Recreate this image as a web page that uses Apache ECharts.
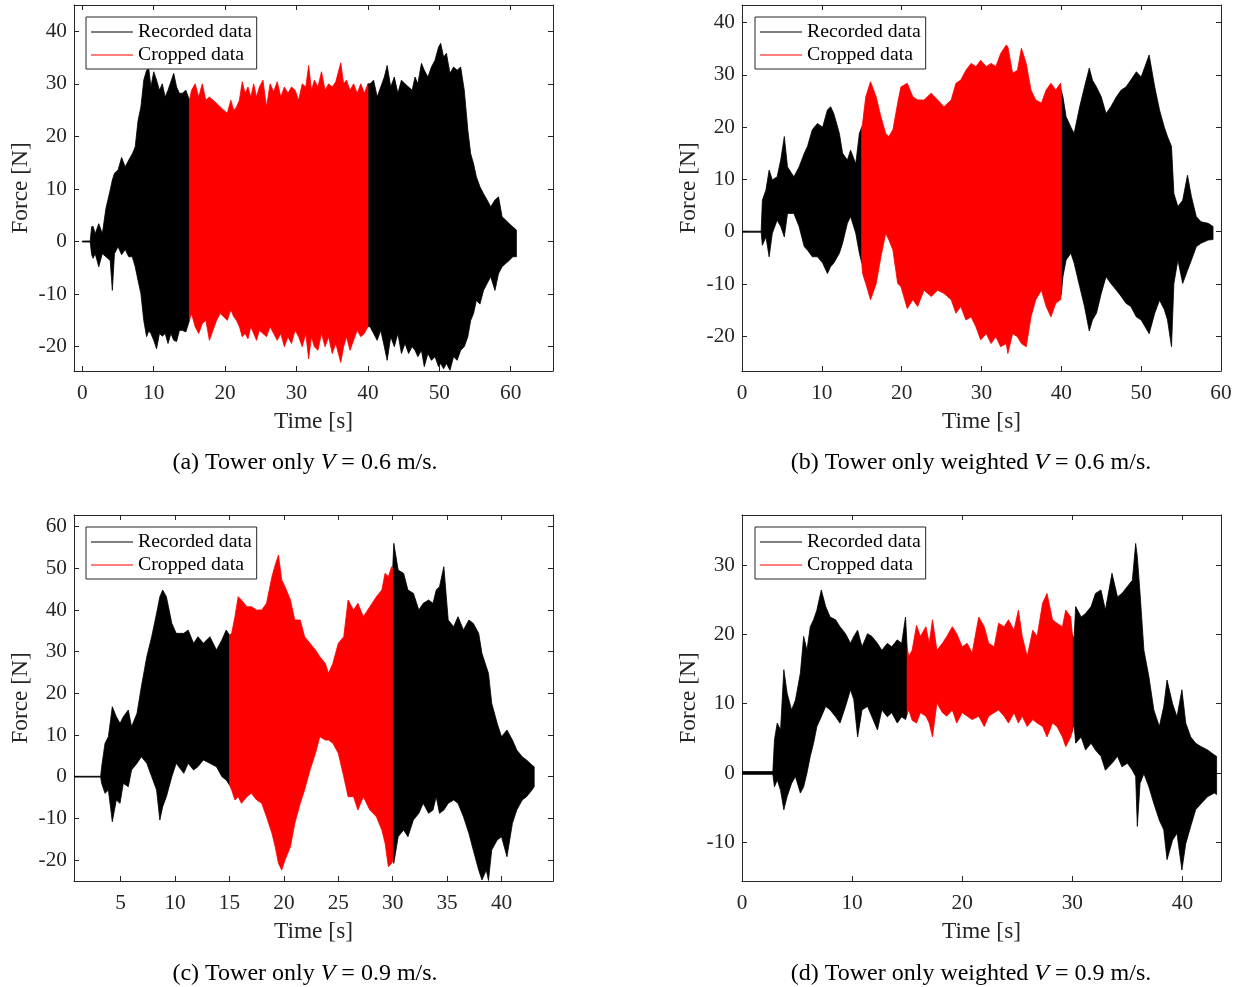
<!DOCTYPE html>
<html>
<head>
<meta charset="utf-8">
<script src="https://cdn.jsdelivr.net/npm/echarts@6/dist/echarts.min.js"></script>
<style>
  html, body { margin: 0; padding: 0; background: #fff; }
  #chart { width: 1238px; height: 987px; }
</style>
</head>
<body>
<div id="chart"></div>
<script>
// data: time [s] with the upper / lower peaks of the force signal [N]

// (a) tower only, V = 0.6 m/s
const timeA = [0, 1.1, 1.3, 1.5, 1.8, 2.3, 2.8, 3.3, 3.9, 4.2, 4.5, 5.0, 5.5, 6.0, 6.5, 7.0, 7.4, 7.8, 8.2, 8.6, 9.0, 9.3, 9.6, 10.0, 10.4, 10.8, 11.2, 11.6, 12.0, 12.4, 12.8, 13.2, 13.6, 14.0, 14.5, 15.0,
  15.3, 15.8, 16.3, 16.8, 17.3, 17.8, 18.3, 18.8, 19.3, 19.8, 20.3, 20.8, 21.2, 21.6, 22.0, 22.4, 22.8, 23.2, 23.6, 24.0, 24.4, 24.8, 25.3, 25.8, 26.3, 26.8, 27.3, 27.8, 28.3, 28.8, 29.3, 29.8, 30.3, 30.8, 31.3, 31.7, 32.1, 32.5, 33.0, 33.5, 34.0, 34.5, 35.0, 35.5, 36.2, 36.6, 37.0, 37.5, 38.0, 38.5, 39.0, 39.5, 40.0,
  40.3, 40.8, 41.3, 41.8, 42.3, 42.7, 43.2, 43.7, 44.2, 44.7, 45.2, 45.7, 46.2, 46.6, 47.0, 47.5, 47.9, 48.4, 48.9, 49.4, 49.9, 50.2, 50.6, 51.0, 51.5, 52.0, 52.5, 53.0, 53.5, 54.0, 54.4, 54.8, 55.2, 55.7, 56.2, 56.7, 57.2, 57.8, 58.3, 58.8, 59.3, 59.8, 60.3, 60.8];
const upperA = [0.1, 0.1, 2.8, 2.9, 1.5, 3.4, 1.5, 6.3, 9.8, 11.7, 13.0, 13.6, 16.0, 14.2, 15.5, 16.7, 18.0, 23.0, 25.6, 30.7, 32.6, 33.0, 29.4, 32.3, 30.7, 28.8, 30.0, 27.5, 28.8, 30.4, 32.0, 29.4, 28.2, 28.2, 28.8, 26.9,
  28.8, 30.0, 27.5, 30.0, 26.9, 27.5, 26.9, 26.3, 25.6, 25.0, 24.4, 26.9, 25.0, 25.6, 26.9, 30.4, 28.2, 29.4, 27.5, 30.0, 27.5, 29.4, 30.7, 25.6, 30.0, 28.5, 30.4, 27.5, 29.4, 28.2, 29.4, 28.8, 26.9, 30.0, 29.4, 33.5, 28.8, 30.7, 29.4, 32.3, 28.8, 30.0, 29.4, 30.4, 34.0, 30.0, 30.7, 28.8, 30.0, 28.2, 30.0, 28.2, 30.0,
  30.0, 30.7, 27.5, 29.4, 31.3, 33.5, 29.4, 31.3, 28.2, 30.7, 30.0, 29.4, 28.8, 31.3, 30.0, 33.9, 32.6, 31.3, 33.2, 34.5, 37.0, 37.7, 35.1, 35.8, 32.0, 33.2, 32.6, 33.2, 28.8, 21.2, 16.7, 14.8, 12.3, 10.4, 9.1, 7.9, 6.6, 7.9, 8.5, 4.7, 4.1, 3.4, 2.8, 2.2];
const lowerA = [-0.1, -0.1, -2.5, -3.2, -2.3, -4.8, -2.3, -2.9, -3.6, -9.3, -2.3, -1.0, -2.5, -1.5, -2.9, -2.9, -4.8, -7.4, -9.9, -15.0, -18.1, -17.0, -17.5, -18.8, -20.4, -17.5, -18.0, -17.5, -19.4, -17.5, -18.8, -19.0, -16.9, -16.9, -17.2, -15.0,
  -13.7, -16.2, -17.5, -15.6, -15.0, -18.8, -16.9, -15.0, -13.7, -14.3, -15.0, -13.0, -14.3, -15.0, -16.2, -18.1, -17.5, -18.5, -16.2, -17.5, -18.8, -16.9, -17.5, -18.1, -16.2, -17.5, -18.8, -17.5, -20.0, -18.1, -19.4, -16.9, -18.1, -20.0, -17.5, -22.3, -18.1, -20.0, -20.7, -17.5, -20.0, -18.1, -21.3, -19.4, -23.0, -20.0, -18.1, -20.7, -18.8, -16.9, -18.1, -17.5, -16.2,
  -16.2, -17.5, -18.8, -16.9, -20.0, -22.6, -18.1, -20.0, -17.5, -21.3, -19.4, -21.3, -20.0, -20.7, -21.9, -20.7, -23.8, -21.3, -22.6, -21.9, -23.8, -23.2, -24.2, -23.2, -24.5, -21.9, -22.6, -20.7, -20.0, -18.1, -15.0, -13.7, -11.2, -11.9, -9.3, -8.0, -6.7, -9.3, -6.1, -4.8, -4.2, -3.6, -2.9, -2.9];

// (b) tower only weighted, V = 0.6 m/s
const timeB = [0, 2.4, 2.55, 3.0, 3.4, 3.8, 4.4, 4.85, 5.3, 5.7, 6.5, 7.15, 7.8, 8.2, 8.8, 9.45, 10.1, 10.7, 11.1, 11.5, 12.2, 12.6, 13.2, 13.6, 14.25, 14.7, 15.0,
  15.1, 15.5, 16.1, 16.8, 17.4, 18.0, 18.4, 18.9, 19.5, 19.9, 20.7, 21.4, 22.0, 22.8, 23.7, 24.5, 25.3, 26.2, 26.8, 27.4, 28.05, 28.7, 29.3, 29.9, 30.6, 31.2, 31.8, 32.4, 33.1, 33.3, 33.9, 34.5, 35.0, 35.6, 36.2, 36.8, 37.5, 38.1, 38.7, 39.3, 39.9, 40.0,
  40.2, 40.6, 41.2, 41.6, 42.3, 42.9, 43.5, 43.9, 44.4, 45.0, 45.6, 46.2, 46.9, 47.5, 48.1, 48.7, 49.4, 50.0, 51.0, 51.7, 52.3, 52.9, 53.3, 53.8, 54.1, 54.6, 55.2, 55.8, 56.3, 56.9, 57.5, 58.4, 59.0];
const upperB = [0.1, 0.1, 6.0, 8.0, 11.8, 9.9, 10.5, 13.7, 18.2, 12.4, 10.5, 12.4, 15.0, 16.3, 19.5, 20.7, 20.0, 23.3, 23.9, 22.6, 18.8, 15.0, 13.7, 15.6, 13.0, 18.8, 20.0,
  20.7, 25.8, 28.7, 25.8, 22.0, 18.8, 18.2, 19.5, 24.6, 27.7, 28.4, 25.8, 25.2, 25.2, 26.5, 25.2, 23.9, 25.2, 28.4, 29.0, 30.9, 32.2, 31.6, 32.8, 31.6, 32.2, 31.6, 34.1, 35.7, 35.4, 30.3, 30.9, 35.1, 32.2, 27.1, 25.2, 24.6, 27.1, 28.4, 27.1, 28.4, 27.0,
  25.8, 22.0, 20.0, 18.8, 23.9, 27.7, 31.3, 29.0, 27.7, 25.8, 22.6, 23.9, 25.8, 27.1, 27.7, 29.0, 30.6, 29.6, 33.8, 27.7, 23.3, 20.0, 18.2, 16.3, 7.3, 4.8, 6.0, 10.8, 6.7, 2.9, 1.9, 1.6, 1.0];
const lowerB = [-0.1, -0.1, -2.6, -1.0, -4.8, -0.3, 2.2, 1.0, -1.0, 3.5, 3.5, 1.0, -2.9, -3.5, -4.8, -4.8, -6.0, -8.0, -6.7, -6.0, -4.1, -2.2, 1.6, 2.9, -0.3, -4.1, -6.0,
  -8.0, -9.9, -13.0, -10.0, -4.8, -0.3, -1.6, -3.5, -9.9, -10.5, -14.7, -13.0, -14.3, -11.2, -12.4, -11.2, -11.8, -13.0, -15.6, -14.3, -16.9, -16.3, -18.2, -20.7, -19.5, -21.4, -20.1, -22.0, -21.4, -23.3, -19.5, -20.1, -21.4, -22.0, -16.3, -13.0, -11.2, -14.3, -16.3, -13.7, -13.0, -12.0,
  -8.6, -5.4, -4.1, -6.0, -10.5, -14.3, -19.0, -16.9, -15.6, -11.8, -8.6, -9.9, -11.2, -12.4, -13.7, -14.3, -16.3, -16.9, -19.5, -15.6, -13.1, -14.9, -16.9, -22.0, -9.9, -5.4, -9.9, -7.4, -5.4, -2.9, -2.2, -1.6, -1.5];

// (c) tower only, V = 0.9 m/s
const timeC = [0.75, 3.16, 3.25, 3.56, 3.87, 4.23, 4.6, 4.94, 5.24, 5.7, 6.0, 6.5, 6.9, 7.4, 7.85, 8.3, 8.6, 8.86, 9.2, 9.7, 10.1, 10.8, 11.2, 11.7, 12.1, 12.6, 13.2, 13.8, 14.3, 14.7, 15.0,
  15.2, 15.5, 15.8, 16.1, 16.6, 17.0, 17.5, 17.96, 18.4, 18.9, 19.2, 19.5, 19.8, 20.1, 20.6, 21.0, 21.5, 21.9, 22.4, 22.9, 23.3, 23.8, 24.1, 24.5, 25.0, 25.5, 25.9, 26.4, 26.8, 27.3, 27.9, 28.5, 29.0, 29.3, 29.6, 29.9, 30.0,
  30.1, 30.5, 31.0, 31.4, 31.9, 32.4, 32.8, 33.3, 33.7, 34.0, 34.3, 34.7, 35.1, 35.6, 36.0, 36.5, 37.0, 37.4, 37.9, 38.2, 38.6, 38.8, 39.1, 39.6, 40.0, 40.5, 41.0, 41.4, 41.9, 42.3, 42.8, 43.0];
const upperC = [0.1, 0.1, 2.4, 8.0, 9.6, 16.8, 14.4, 12.8, 14.4, 16.0, 12.0, 15.2, 21.6, 28.8, 33.6, 39.2, 43.2, 44.8, 43.2, 36.8, 34.4, 34.4, 35.2, 32.0, 33.6, 32.0, 33.6, 30.4, 32.8, 35.2, 34.0,
  34.4, 38.4, 43.2, 42.4, 40.8, 40.8, 40.0, 40.0, 41.6, 48.0, 50.8, 53.2, 47.2, 45.6, 42.4, 37.6, 37.6, 33.6, 32.0, 30.4, 28.8, 27.2, 24.8, 27.2, 32.0, 33.6, 42.4, 40.0, 41.6, 38.4, 40.8, 43.2, 44.8, 48.8, 48.0, 50.4, 50.0,
  56.0, 49.6, 48.8, 44.8, 44.0, 40.0, 41.6, 42.4, 41.6, 44.8, 45.6, 50.4, 37.6, 36.0, 38.4, 35.2, 37.6, 36.8, 34.4, 29.6, 26.4, 24.8, 17.6, 12.8, 9.6, 11.2, 8.8, 6.4, 4.8, 4.0, 2.8, 2.4];
const lowerC = [-0.1, -0.1, -1.6, -4.0, -3.2, -10.8, -5.6, -6.4, -1.6, -2.4, 1.6, 3.2, 4.8, 3.2, 0, -3.2, -10.4, -7.2, -4.8, 0, 3.2, 0.8, 3.2, 1.6, 2.4, 4.0, 3.2, 2.4, 0, -0.8, -2.0,
  -3.2, -5.6, -4.8, -6.4, -4.8, -4.0, -5.6, -6.4, -9.6, -13.6, -16.8, -20.8, -22.4, -20.0, -16.8, -11.2, -6.4, -3.2, 1.6, 5.6, 9.6, 8.8, 8.8, 8.0, 5.6, 0, -4.8, -4.8, -8.0, -4.8, -8.0, -9.6, -12.8, -16.0, -21.6, -20.8, -20.0,
  -20.8, -14.4, -12.8, -14.4, -10.4, -8.8, -6.4, -8.8, -8.0, -4.8, -8.8, -8.0, -6.4, -5.6, -6.4, -9.6, -13.6, -17.6, -22.4, -24.8, -22.4, -24.9, -17.6, -15.2, -14.4, -19.2, -11.2, -8.0, -5.6, -4.8, -3.2, -2.4];

// (d) tower only weighted, V = 0.9 m/s
const timeD = [0, 2.8, 2.95, 3.2, 3.5, 3.8, 4.1, 4.5, 4.85, 5.3, 5.6, 5.9, 6.2, 6.5, 6.8, 7.2, 7.6, 8.0, 8.5, 8.9, 9.4, 9.85, 10.15, 10.5, 10.9, 11.4, 11.8, 12.3, 12.7, 13.2, 13.6, 14.1, 14.5, 14.85, 15.0,
  15.15, 15.45, 15.85, 16.2, 16.7, 17.0, 17.3, 17.7, 18.2, 18.6, 19.1, 19.5, 20.0, 20.45, 20.9, 21.5, 22.0, 22.4, 22.9, 23.3, 23.8, 24.2, 24.7, 25.1, 25.45, 25.9, 26.4, 26.8, 27.3, 27.7, 28.2, 28.6, 29.1, 29.4, 29.85, 30.0,
  30.15, 30.3, 30.8, 31.2, 31.7, 32.1, 32.6, 33.0, 33.6, 34.1, 34.5, 35.0, 35.45, 35.75, 35.9, 36.15, 36.5, 36.95, 37.4, 37.9, 38.3, 38.6, 39.1, 39.5, 39.95, 40.3, 40.75, 41.2, 41.7, 42.3, 42.9, 43.1];
const upperD = [0.2, 0.2, 4.8, 7.2, 6.2, 14.9, 11.5, 9.1, 10.5, 14.4, 19.7, 17.7, 21.1, 22.1, 23.5, 26.4, 24.0, 22.5, 22.1, 21.1, 20.1, 18.7, 19.7, 20.6, 18.2, 20.1, 19.7, 18.7, 17.7, 18.7, 18.2, 19.2, 18.7, 22.5, 18.0,
  16.8, 17.7, 21.3, 19.7, 21.1, 18.7, 22.1, 17.7, 18.7, 19.7, 21.1, 20.1, 18.2, 18.7, 17.3, 22.5, 21.1, 18.7, 18.2, 21.6, 21.1, 22.1, 20.6, 23.5, 19.7, 16.8, 20.6, 19.7, 24.5, 25.9, 22.1, 21.6, 21.1, 23.5, 22.5, 20.0,
  19.2, 24.0, 22.5, 23.0, 24.0, 25.9, 26.4, 23.5, 28.8, 25.4, 25.9, 26.9, 27.8, 33.1, 31.2, 25.9, 17.7, 13.9, 9.1, 6.7, 9.6, 13.4, 10.0, 8.1, 12.0, 7.2, 5.2, 4.3, 3.8, 3.3, 2.6, 2.4];
const lowerD = [-0.2, -0.2, -2.0, -1.0, -2.5, -5.3, -3.4, -1.5, -0.5, -2.9, -2.0, 0, 2.4, 4.3, 6.7, 8.1, 9.6, 9.1, 8.1, 7.2, 9.6, 12.0, 10.6, 5.2, 9.1, 9.6, 8.1, 6.2, 9.1, 8.1, 8.7, 7.2, 8.1, 7.7, 8.5,
  9.1, 7.6, 7.2, 8.7, 8.2, 7.2, 5.2, 10.1, 8.7, 8.2, 9.1, 7.2, 8.7, 8.2, 7.7, 8.2, 6.7, 8.2, 8.7, 9.1, 8.2, 7.2, 8.7, 7.2, 8.2, 6.7, 7.7, 7.2, 6.7, 5.2, 7.2, 6.7, 5.2, 3.8, 5.2, 6.0,
  7.2, 4.3, 5.2, 3.3, 4.3, 3.3, 2.4, 0.4, 1.4, 2.4, 0.9, 1.4, 0.4, -0.5, -7.7, -1.5, -0.1, -2.0, -4.4, -6.8, -8.2, -12.5, -9.7, -8.7, -14.0, -10.2, -7.7, -5.3, -4.4, -3.4, -2.9, -3.1];

// cropped window [s]
const cropA = [15, 40];
const cropB = [15, 40];
const cropC = [15, 30];
const cropD = [15, 30];

// tick labels
const xTicksA = [0, 10, 20, 30, 40, 50, 60];
const yTicksA = [-20, -10, 0, 10, 20, 30, 40];
const xTicksB = [0, 10, 20, 30, 40, 50, 60];
const yTicksB = [-20, -10, 0, 10, 20, 30, 40];
const xTicksC = [5, 10, 15, 20, 25, 30, 35, 40];
const yTicksC = [-20, -10, 0, 10, 20, 30, 40, 50, 60];
const xTicksD = [0, 10, 20, 30, 40];
const yTicksD = [-10, 0, 10, 20, 30];

const captions = [
  '(a) Tower only {v|V} = 0.6 m/s.',
  '(b) Tower only weighted {v|V} = 0.6 m/s.',
  '(c) Tower only {v|V} = 0.9 m/s.',
  '(d) Tower only weighted {v|V} = 0.9 m/s.'
];

const FONT = 'Liberation Serif';
const AX = '#262626';
const BLACK = '#000000';
const RED = '#ff0000';

const panels = [
  { t: timeA, hi: upperA, lo: lowerA, crop: cropA, xt: xTicksA, yt: yTicksA, x: [-1.17, 65.93], y: [-24.63, 45.0], grid: { left: 74, top: 5 }, legend: { left: 86, top: 17 }, cap: [305, 463] },
  { t: timeB, hi: upperB, lo: lowerB, crop: cropB, xt: xTicksB, yt: yTicksB, x: [0, 60], y: [-26.65, 43.37], grid: { left: 742, top: 5 }, legend: { left: 755, top: 17 }, cap: [971, 463] },
  { t: timeC, hi: upperC, lo: lowerC, crop: cropC, xt: xTicksC, yt: yTicksC, x: [0.71, 44.73], y: [-25.03, 62.8], grid: { left: 74, top: 515 }, legend: { left: 86, top: 527 }, cap: [305, 974] },
  { t: timeD, hi: upperD, lo: lowerD, crop: cropD, xt: xTicksD, yt: yTicksD, x: [0, 43.5], y: [-15.58, 37.21], grid: { left: 742, top: 515 }, legend: { left: 755, top: 527 }, cap: [971, 974] }
];

// pick the knots between a and b
const pick = (p, a, b) => {
  const out = [];
  p.t.forEach((v, i) => { if (v >= a && v <= b) out.push([v, p.hi[i], p.lo[i]]); });
  return out;
};

// filled band between the upper and lower peaks, drawn through the axis scales
const band = (gi, name, color, knots) => ({
  type: 'custom',
  name: name,
  coordinateSystem: 'cartesian2d',
  xAxisIndex: 2 * gi,
  yAxisIndex: 2 * gi,
  clip: true,
  silent: true,
  itemStyle: { color: color },
  data: knots,
  renderItem: (params, api) => {
    if (params.dataIndex !== 0) return null;
    const top = knots.map(k => api.coord([k[0], k[1]]));
    const bot = knots.map(k => api.coord([k[0], k[2]])).reverse();
    return {
      type: 'polygon',
      shape: { points: top.concat(bot) },
      style: { fill: color, stroke: color, lineWidth: 0.8 }
    };
  }
});

const grids = [], xAxes = [], yAxes = [], series = [], legends = [], graphics = [];

panels.forEach((p, gi) => {
  grids.push({ left: p.grid.left, top: p.grid.top, width: 479, height: 366 });

  const tick = (vals) => ({ show: true, inside: true, length: 5, customValues: vals, lineStyle: { color: AX, width: 1 } });
  const line = { show: true, onZero: false, lineStyle: { color: AX, width: 1 } };

  xAxes.push({
    gridIndex: gi, type: 'value', position: 'bottom', min: p.x[0], max: p.x[1],
    axisLine: line, axisTick: tick(p.xt), splitLine: { show: false },
    axisLabel: { customValues: p.xt, margin: 12, fontFamily: FONT, fontSize: 21.3, color: AX },
    name: 'Time [s]', nameLocation: 'middle', nameGap: 39,
    nameTextStyle: { fontFamily: FONT, fontSize: 23.4, color: AX }
  });
  xAxes.push({
    gridIndex: gi, type: 'value', position: 'top', min: p.x[0], max: p.x[1],
    axisLine: line, axisTick: tick(p.xt), axisLabel: { show: false }, splitLine: { show: false }
  });
  yAxes.push({
    gridIndex: gi, type: 'value', position: 'left', min: p.y[0], max: p.y[1],
    axisLine: line, axisTick: tick(p.yt), splitLine: { show: false },
    axisLabel: { customValues: p.yt, margin: 7, fontFamily: FONT, fontSize: 21.3, color: AX },
    name: 'Force [N]', nameLocation: 'middle', nameGap: 42,
    nameTextStyle: { fontFamily: FONT, fontSize: 23.4, color: AX }
  });
  yAxes.push({
    gridIndex: gi, type: 'value', position: 'right', min: p.y[0], max: p.y[1],
    axisLine: line, axisTick: tick(p.yt), axisLabel: { show: false }, splitLine: { show: false }
  });

  series.push(band(gi, 'Recorded data', BLACK, pick(p, -1e9, p.crop[0])));
  series.push(band(gi, 'Recorded data', BLACK, pick(p, p.crop[1], 1e9)));
  series.push(band(gi, 'Cropped data', RED, pick(p, p.crop[0], p.crop[1])));

  legends.push({
    left: p.legend.left, top: p.legend.top, orient: 'vertical',
    data: [
      { name: 'Recorded data', itemStyle: { color: BLACK } },
      { name: 'Cropped data', itemStyle: { color: RED } }
    ],
    icon: 'rect', itemWidth: 42, itemHeight: 1, itemGap: 3,
    padding: [5, 5, 4, 5],
    backgroundColor: '#fff', borderColor: AX, borderWidth: 1,
    selectedMode: false,
    textStyle: { fontFamily: FONT, fontSize: 19.8, lineHeight: 20, color: '#000' }
  });

  graphics.push({
    type: 'text', x: p.cap[0], y: p.cap[1],
    style: {
      text: captions[gi], fill: '#000', fontFamily: FONT, fontSize: 24,
      textAlign: 'center', textVerticalAlign: 'middle', align: 'center', verticalAlign: 'middle',
      rich: { v: { fontFamily: FONT, fontSize: 24, fontStyle: 'italic', fill: '#000' } }
    }
  });
});

const chart = echarts.init(document.getElementById('chart'), null, { renderer: 'canvas' });
chart.setOption({
  animation: false,
  backgroundColor: '#fff',
  grid: grids,
  xAxis: xAxes,
  yAxis: yAxes,
  legend: legends,
  series: series,
  graphic: graphics
});
</script>
</body>
</html>
